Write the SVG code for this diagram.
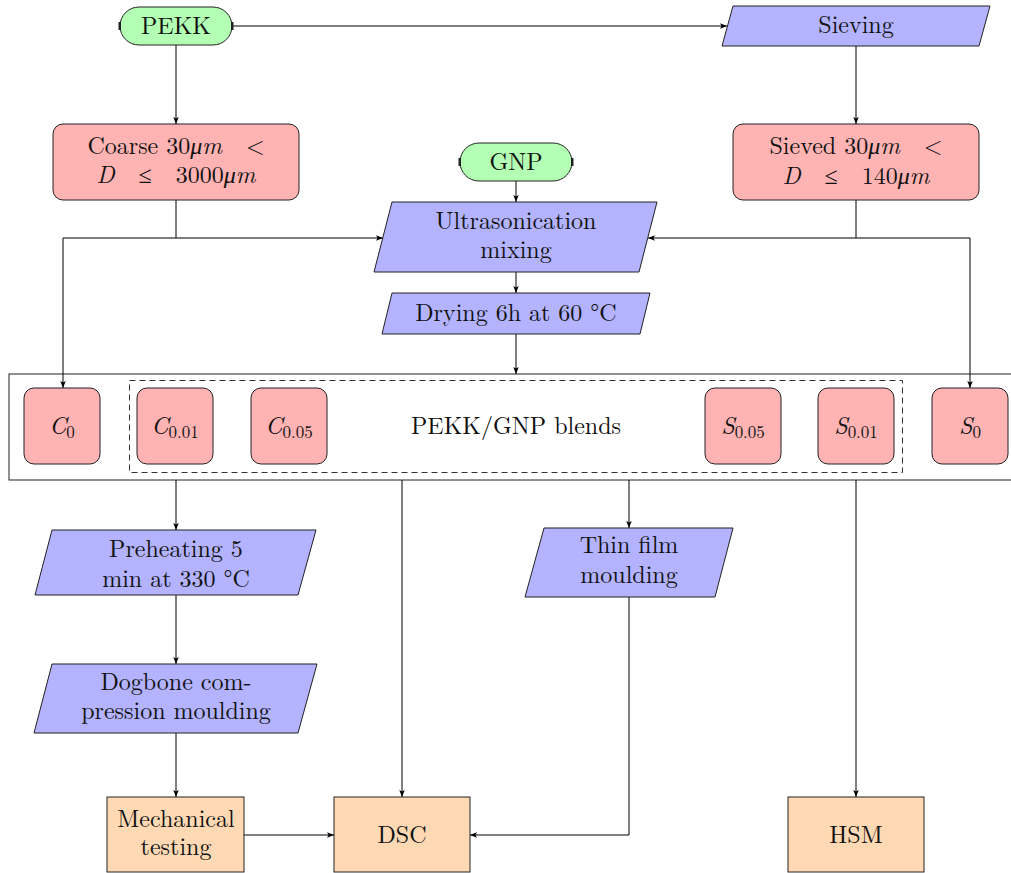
<svg xmlns="http://www.w3.org/2000/svg" width="1011" height="873" viewBox="0 0 1011 873" font-family="Latin Modern Roman, Liberation Serif, serif" font-size="24">
<defs>
<marker id="arr" markerUnits="userSpaceOnUse" markerWidth="8" markerHeight="6" refX="7" refY="2.75" orient="auto">
<path d="M0,0 L7,2.75 L0,5.5 L1.6,2.75 z" fill="#000"/>
</marker>
<style>
text{fill:#111;text-anchor:middle}
.it{font-style:italic}
.sub{font-size:17px;font-style:normal}
.term{fill:#b3ffb3;stroke:#222;stroke-width:1}
.io{fill:#b3b3ff;stroke:#222;stroke-width:1}
.mat{fill:#ffb3b3;stroke:#222;stroke-width:1}
.test{fill:#ffd9b3;stroke:#222;stroke-width:1}
.tick{fill:#222}
.conn path{fill:none;stroke:#000;stroke-width:1}
</style>
</defs>
<rect width="1011" height="873" fill="#fff"/>

<g id="container">
<rect x="9" y="374" width="1020" height="106" fill="#fff" stroke="#222" stroke-width="1"/>
<rect x="129.5" y="380.5" width="773" height="92" fill="none" stroke="#333" stroke-width="1" stroke-dasharray="6,4"/>
<text x="516" y="434">PEKK/GNP blends</text>
</g>

<g class="conn" id="connectors">
<path d="M232,26 H727" marker-end="url(#arr)"/>
<path d="M176,45 V124" marker-end="url(#arr)"/>
<path d="M856,46 V124" marker-end="url(#arr)"/>
<path d="M176,200 V238 H383" marker-end="url(#arr)"/>
<path d="M176,238 H63 V388" marker-end="url(#arr)"/>
<path d="M856,200 V238 H648" marker-end="url(#arr)"/>
<path d="M856,238 H970 V388" marker-end="url(#arr)"/>
<path d="M516,181 V202" marker-end="url(#arr)"/>
<path d="M516,272 V293" marker-end="url(#arr)"/>
<path d="M516,334 V374" marker-end="url(#arr)"/>
<path d="M176,480 V530" marker-end="url(#arr)"/>
<path d="M402,480 V797" marker-end="url(#arr)"/>
<path d="M629,480 V528" marker-end="url(#arr)"/>
<path d="M856,480 V797" marker-end="url(#arr)"/>
<path d="M176,595 V664" marker-end="url(#arr)"/>
<path d="M176,733 V797" marker-end="url(#arr)"/>
<path d="M244,835 H334" marker-end="url(#arr)"/>
<path d="M629,597 V835 H470" marker-end="url(#arr)"/>
</g>

<g id="pekk">
<rect class="term" x="120" y="7" width="112" height="38" rx="19"/>
<rect class="tick" x="118.5" y="22" width="2.5" height="8"/>
<rect class="tick" x="231" y="22" width="2.5" height="8"/>
<text x="176" y="34">PEKK</text>
</g>

<g id="sieving">
<polygon class="io" points="733,6 990,6 979,46 722,46"/>
<text x="856" y="33">Sieving</text>
</g>

<g id="coarse">
<rect class="mat" x="53" y="124" width="246" height="76" rx="10"/>
<text x="176" y="154">Coarse 30<tspan class="it">μm</tspan>&#160;&#160;&lt;</text>
<text x="176" y="183"><tspan class="it">D</tspan>&#160;&#160;≤&#160;&#160;3000<tspan class="it">μm</tspan></text>
</g>

<g id="sieved">
<rect class="mat" x="733" y="124" width="246" height="76" rx="10"/>
<text x="856" y="154">Sieved 30<tspan class="it">μm</tspan>&#160;&#160;&lt;</text>
<text x="856" y="184"><tspan class="it">D</tspan>&#160;&#160;≤&#160;&#160;140<tspan class="it">μm</tspan></text>
</g>

<g id="gnp">
<rect class="term" x="460" y="143" width="112" height="38" rx="19"/>
<rect class="tick" x="458.5" y="158" width="2.5" height="8"/>
<rect class="tick" x="571" y="158" width="2.5" height="8"/>
<text x="516" y="170">GNP</text>
</g>

<g id="ultrasonication">
<polygon class="io" points="392,202 657,202 639,272 374,272"/>
<text x="516" y="229">Ultrasonication</text>
<text x="516" y="258">mixing</text>
</g>

<g id="drying">
<polygon class="io" points="392,293 650,293 640,334 382,334"/>
<text x="516" y="321">Drying 6h at 60 °C</text>
</g>

<g id="c0">
<rect class="mat" x="24" y="388" width="76" height="76" rx="10"/>
<text x="62" y="434"><tspan class="it">C</tspan><tspan class="sub" dy="4">0</tspan></text>
</g>
<g id="c001">
<rect class="mat" x="137" y="388" width="76" height="76" rx="10"/>
<text x="175" y="434"><tspan class="it">C</tspan><tspan class="sub" dy="4">0.01</tspan></text>
</g>
<g id="c005">
<rect class="mat" x="251" y="388" width="76" height="76" rx="10"/>
<text x="289" y="434"><tspan class="it">C</tspan><tspan class="sub" dy="4">0.05</tspan></text>
</g>
<g id="s005">
<rect class="mat" x="705" y="388" width="76" height="76" rx="10"/>
<text x="743" y="434"><tspan class="it">S</tspan><tspan class="sub" dy="4">0.05</tspan></text>
</g>
<g id="s001">
<rect class="mat" x="818" y="388" width="76" height="76" rx="10"/>
<text x="856" y="434"><tspan class="it">S</tspan><tspan class="sub" dy="4">0.01</tspan></text>
</g>
<g id="s0">
<rect class="mat" x="932" y="388" width="76" height="76" rx="10"/>
<text x="970" y="434"><tspan class="it">S</tspan><tspan class="sub" dy="4">0</tspan></text>
</g>

<g id="preheating">
<polygon class="io" points="52,530 316,530 298,595 35,595"/>
<text x="176" y="557">Preheating 5</text>
<text x="176" y="587">min at 330 °C</text>
</g>

<g id="dogbone">
<polygon class="io" points="52,664 317,664 298,733 34,733"/>
<text x="176" y="690">Dogbone com-</text>
<text x="176" y="719">pression moulding</text>
</g>

<g id="thinfilm">
<polygon class="io" points="544,528 733,528 715,597 525,597"/>
<text x="629" y="553">Thin film</text>
<text x="629" y="583">moulding</text>
</g>

<g id="mechanical">
<rect class="test" x="107" y="797" width="137" height="75"/>
<text x="176" y="827">Mechanical</text>
<text x="176" y="855">testing</text>
</g>

<g id="dsc">
<rect class="test" x="334" y="797" width="136" height="75"/>
<text x="402" y="843">DSC</text>
</g>

<g id="hsm">
<rect class="test" x="788" y="797" width="136" height="75"/>
<text x="856" y="843">HSM</text>
</g>
</svg>
